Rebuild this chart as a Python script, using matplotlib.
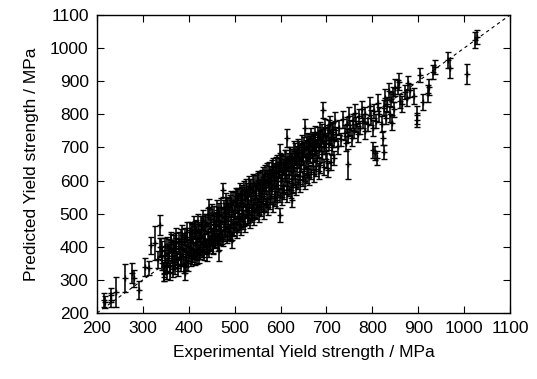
import matplotlib
matplotlib.use("Agg")
import matplotlib.pyplot as plt

# Experimental vs predicted yield strength (MPa), with prediction error bars
exp_low = [215, 218, 230, 231, 241, 261, 276, 281, 291, 305, 313, 318, 326, 337, 339, 345]
pred_low = [239, 232, 239, 254, 263, 305, 321, 305, 269, 339, 336, 405, 411, 466, 400, 320]
err_low = [21, 18, 20, 22, 45, 42, 30, 25, 28, 27, 22, 26, 51, 30, 28, 22]

exp_mid = [
    332, 338, 341, 345, 348, 350, 352, 355, 357, 360, 361, 364, 366, 368, 370, 372, 374, 376, 378, 380,
    382, 384, 386, 388, 390, 392, 393, 395, 397, 399,
    401, 403, 405, 407, 409, 410, 412, 414, 415, 417, 419, 420, 422, 424, 425, 427, 429, 430, 432, 434,
    435, 437, 439, 440, 442, 443, 445, 447, 448, 450, 452, 454, 455, 457, 459, 460, 462, 464, 465, 466,
    467, 469, 470,
    472, 473, 475, 476, 478, 480, 481, 483, 485, 487, 488, 490, 492, 494, 494, 496, 498, 500, 501, 503,
    505, 507, 508, 510, 512, 514, 515, 517, 519, 520, 522, 524, 525, 527, 529, 530, 532, 534, 535, 537,
    539, 540, 542, 544, 545, 547, 549, 550,
    552, 553, 555, 557, 559, 560, 562, 564, 565, 567, 569, 570, 572, 574, 575, 577, 579, 580, 582, 584,
    585, 587, 589, 590, 592, 594, 595, 597, 599, 599, 600, 602, 604, 605, 607, 609, 610, 612, 614, 615,
    617, 619, 620, 622, 624, 625, 625, 627, 629, 630, 632, 634, 636, 638, 640,
    642, 644, 645, 647, 649, 650, 652, 653, 655, 657, 659, 660, 662, 664, 666, 668, 670, 672, 674, 676,
    678, 680, 682, 684, 686, 688, 690, 692, 692, 694, 696, 698, 700, 703, 704, 706, 708, 710, 712, 714,
    716, 718, 720,
]
pred_mid = [
    362, 398, 352, 330, 371, 345, 402, 360, 383, 341, 420, 372, 395, 355, 388, 412, 366, 348, 401, 380,
    425, 362, 394, 372, 416, 321, 388, 355, 430, 402,
    378, 420, 395, 441, 372, 410, 388, 452, 405, 369, 428, 398, 446, 415, 384, 430, 462, 408, 392, 438,
    420, 470, 402, 384, 448, 520, 425, 412, 458, 436, 402, 470, 448, 420, 480, 455, 430, 492, 462, 390,
    438, 475, 450,
    492, 430, 571, 468, 505, 455, 482, 520, 470, 445, 498, 530, 478, 420, 512, 460, 492, 540, 505, 470,
    522, 488, 552, 512, 478, 535, 500, 560, 520, 488, 545, 510, 575, 530, 495, 552, 520, 580, 540, 505,
    562, 528, 590, 548, 512, 570, 535, 598,
    556, 520, 582, 545, 605, 570, 530, 592, 558, 620, 580, 545, 602, 568, 630, 590, 552, 612, 578, 640,
    600, 560, 622, 588, 650, 610, 575, 632, 683, 496, 598, 655, 620, 585, 642, 608, 665, 630, 728, 595,
    650, 618, 675, 640, 605, 541, 660, 628, 690, 650, 615, 672, 640, 700, 660,
    625, 685, 650, 710, 670, 636, 695, 759, 660, 718, 680, 645, 705, 672, 730, 690, 655, 715, 682, 740,
    700, 668, 725, 692, 750, 712, 680, 813, 735, 700, 760, 722, 690, 632, 745, 712, 770, 730, 700, 755,
    722, 780, 740,
]
err_mid = [
    25, 30, 22, 20, 18, 22, 28, 20, 24, 18, 26, 20, 22, 19, 25, 30, 20, 22, 24, 18,
    28, 20, 21, 24, 26, 22, 19, 24, 28, 20,
    22, 25, 20, 30, 18, 22, 24, 26, 20, 22, 24, 20, 28, 22, 21, 25, 30, 20, 22, 24,
    20, 28, 22, 26, 24, 25, 21, 22, 26, 20, 24, 28, 22, 20, 26, 22, 24, 28, 20, 32,
    22, 25, 20,
    24, 22, 22, 20, 26, 22, 20, 28, 22, 24, 21, 26, 20, 24, 22, 24, 20, 28, 22, 24,
    20, 22, 26, 20, 24, 25, 22, 28, 20, 24, 22, 20, 30, 22, 24, 22, 20, 26, 22, 24,
    22, 20, 28, 22, 24, 22, 20, 26,
    22, 24, 20, 22, 28, 20, 24, 22, 20, 28, 22, 24, 22, 20, 26, 22, 24, 22, 20, 28,
    22, 24, 22, 20, 26, 22, 24, 22, 26, 22, 20, 26, 22, 24, 22, 20, 28, 22, 28, 24,
    22, 20, 26, 22, 24, 22, 22, 20, 28, 22, 24, 22, 20, 26, 22,
    24, 22, 20, 28, 22, 24, 22, 28, 20, 26, 22, 24, 22, 20, 28, 22, 24, 22, 20, 26,
    22, 24, 22, 20, 28, 22, 24, 24, 22, 20, 26, 22, 24, 22, 22, 20, 26, 22, 24, 22,
    20, 26, 22,
]

# outer edges of the dense band
exp_edge = [
    342, 346, 349, 353, 356, 359, 362, 365, 367, 371, 373, 377, 379, 383, 385, 389, 391, 394, 396, 398,
    402, 404, 406, 408, 411, 413, 416, 418, 421, 423, 426, 428, 431, 433, 436, 438, 441, 444, 446, 449,
    451, 453, 456, 458, 461, 463, 466, 468,
    471, 474, 477, 479, 482, 484, 486, 489, 491, 493, 497, 499, 502, 504, 506, 509, 511, 513, 516, 518,
    521, 523, 526, 528, 531, 533, 536, 538, 541, 543, 546, 548,
    551, 554, 556, 558, 561, 563, 566, 568, 571, 573, 576, 578, 581, 583, 586, 588, 591, 593, 596, 598,
    601, 603, 606, 608, 611, 613, 616, 618, 621, 623, 626, 628, 631, 633, 635, 637,
    641, 643, 646, 648, 651, 654, 656, 658, 661, 663, 665, 667, 671, 673, 675, 677, 681, 683, 685, 687,
    691, 695, 697, 701, 705, 709, 713, 717,
]
pred_edge = [
    388, 318, 402, 326, 395, 322, 414, 334, 409, 340, 426, 336, 418, 349, 437, 346, 430, 361, 445, 352,
    450, 366, 441, 371, 462, 368, 455, 382, 470, 376, 466, 391, 481, 385, 474, 399, 490, 394, 485, 410,
    502, 404, 494, 417, 511, 412, 505, 426,
    520, 425, 515, 438, 531, 434, 524, 446, 540, 441, 536, 456, 552, 450, 547, 468, 563, 461, 556, 477,
    572, 470, 566, 488, 583, 480, 578, 497, 592, 490, 586, 506,
    603, 500, 597, 515, 612, 509, 606, 526, 624, 520, 618, 536, 632, 529, 627, 546, 643, 540, 638, 556,
    652, 550, 646, 566, 663, 560, 657, 576, 672, 570, 668, 586, 683, 580, 677, 596,
    692, 590, 686, 606, 703, 600, 697, 616, 712, 610, 706, 626, 722, 620, 716, 636, 733, 630, 726, 646,
    742, 640, 737, 660, 752, 656, 748, 668,
]
err_edge = [
    28, 22, 26, 24, 30, 22, 26, 24, 28, 22, 30, 24, 26, 22, 28, 24, 26, 22, 30, 24,
    26, 24, 28, 22, 30, 24, 26, 22, 28, 24, 26, 22, 30, 24, 26, 22, 28, 24, 30, 22,
    26, 24, 28, 22, 30, 24, 26, 22,
    28, 24, 26, 22, 30, 24, 26, 22, 28, 24, 30, 22, 26, 24, 28, 22, 30, 24, 26, 22,
    28, 24, 26, 22, 30, 24, 26, 22, 28, 24, 30, 22,
    26, 24, 28, 22, 30, 24, 26, 22, 28, 24, 26, 22, 30, 24, 26, 22, 28, 24, 30, 22,
    26, 24, 28, 22, 30, 24, 26, 22, 28, 24, 26, 22, 30, 24, 26, 22,
    28, 24, 26, 22, 30, 24, 26, 22, 28, 24, 30, 22, 26, 24, 28, 22, 30, 24, 26, 22,
    28, 24, 26, 22, 30, 24, 26, 22,
]

exp_high = [
    725, 728, 732, 736, 740, 742, 745, 747, 748, 750, 752, 755, 758, 760, 762, 765, 768, 770, 774, 778,
    780, 783, 785, 790, 795, 798, 801, 801, 804, 806, 808, 810, 812, 815, 820, 823, 825, 825, 828, 830,
    833, 836, 838, 840, 843, 845, 848, 850,
    856, 858, 860, 865, 871, 875, 878, 882, 890, 897, 897, 904, 910, 921, 923, 932, 937, 965, 969, 1006,
    1024, 1028,
]
pred_high = [
    705, 760, 725, 785, 745, 712, 770, 650, 735, 795, 760, 728, 780, 750, 805, 770, 740, 795, 760, 815,
    780, 750, 800, 770, 825, 790, 692, 760, 810, 683, 780, 668, 835, 800, 770, 728, 686, 820, 850, 790,
    830, 870, 800, 845, 775, 860, 815, 880,
    883, 898, 840, 830, 867, 850, 895, 872, 855, 798, 783, 919, 837, 864, 882, 928, 943, 964, 940, 922,
    1024, 1033,
]
err_high = [
    24, 22, 20, 26, 22, 24, 22, 44, 20, 26, 22, 24, 22, 20, 26, 22, 24, 22, 20, 26,
    22, 24, 22, 20, 26, 22, 24, 24, 22, 22, 20, 22, 26, 22, 24, 22, 22, 22, 26, 20,
    22, 26, 24, 22, 22, 24, 22, 26,
    22, 26, 22, 24, 22, 24, 22, 20, 24, 26, 22, 22, 24, 26, 24, 22, 22, 24, 30, 31,
    24, 22,
]

exp_vals = exp_low + exp_mid + exp_edge + exp_high
pred_vals = pred_low + pred_mid + pred_edge + pred_high
err_vals = err_low + err_mid + err_edge + err_high

ticks = list(range(200, 1101, 100))

plt.rcParams['font.family'] = ['Liberation Sans', 'DejaVu Sans']

fig = plt.figure(figsize=(5.37, 3.79), dpi=100)
ax = fig.add_axes([97 / 537, 66 / 379, 413 / 537, 298 / 379])

ax.errorbar(exp_vals, pred_vals, yerr=err_vals, fmt='+', color='black',
            ecolor='black', elinewidth=1.15, capsize=2, capthick=1.1,
            markersize=4, markeredgewidth=1.0)

ax.plot([200, 1100], [200, 1100], linestyle=(0, (3, 3)), color='black', linewidth=0.8)

ax.set_xlim(200, 1100)
ax.set_ylim(200, 1100)
ax.set_xticks(ticks)
ax.set_yticks(ticks)
ax.tick_params(direction='in', top=True, right=True, length=5, width=0.8,
               labelsize=12.5, pad=6)
for s in ax.spines.values():
    s.set_linewidth(1.0)

ax.set_xlabel("Experimental Yield strength / MPa", fontsize=12.5, labelpad=6)
ax.set_ylabel("Predicted Yield strength / MPa", fontsize=12.5, labelpad=8)

fig.savefig("out.png", dpi=100)
